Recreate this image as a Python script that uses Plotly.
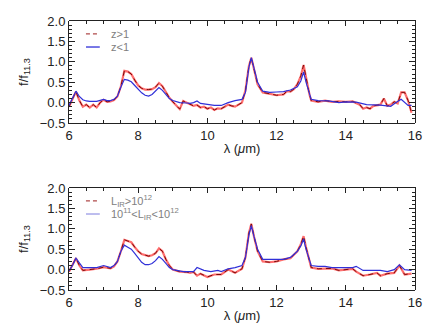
import plotly.graph_objects as go

# ---------------- data ----------------
# top panel: z>1 (red) and z<1 (blue)
lam_zhi = [6.0, 6.1, 6.2, 6.3, 6.4, 6.5, 6.6, 6.7, 6.8, 6.9, 7.0, 7.1, 7.2, 7.3, 7.4, 7.5, 7.6, 7.7, 7.8, 7.9,
           8.0, 8.1, 8.2, 8.3, 8.4, 8.5, 8.6, 8.7, 8.8, 8.9, 9.0, 9.1, 9.2, 9.3, 9.4, 9.5, 9.6, 9.7, 9.8, 9.9,
           10.0, 10.1, 10.2, 10.3, 10.4, 10.5, 10.6, 10.7, 10.8, 10.9, 11.0, 11.1, 11.2, 11.27, 11.35, 11.45,
           11.6, 11.8, 12.0, 12.2, 12.3, 12.4, 12.5, 12.6, 12.7, 12.78, 12.85, 12.95, 13.0, 13.2, 13.4, 13.6,
           13.8, 14.0, 14.2, 14.4, 14.5, 14.6, 14.7, 14.8, 15.0, 15.1, 15.2, 15.3, 15.4, 15.5, 15.6, 15.7,
           15.8, 15.9]
f_zhi = [-0.10, 0.10, 0.27, 0.05, -0.10, -0.05, -0.12, -0.05, -0.12, 0.00, 0.07, 0.02, 0.03, 0.06, 0.15, 0.40,
         0.78, 0.76, 0.70, 0.55, 0.42, 0.35, 0.32, 0.32, 0.33, 0.38, 0.48, 0.40, 0.25, 0.12, 0.02, -0.08,
         -0.16, 0.04, 0.00, -0.05, -0.08, -0.06, -0.12, -0.10, -0.15, -0.12, -0.18, -0.14, -0.15, -0.10,
         -0.05, -0.08, -0.10, -0.05, 0.00, 0.30, 0.90, 1.10, 0.80, 0.45, 0.25, 0.22, 0.18, 0.20, 0.28, 0.27,
         0.33, 0.45, 0.65, 0.92, 0.60, 0.20, 0.05, 0.02, 0.05, 0.02, 0.03, 0.02, 0.03, -0.05, -0.15, -0.12,
         -0.15, -0.08, -0.05, 0.10, -0.08, -0.05, 0.02, -0.02, 0.25, 0.25, 0.05, -0.25]

lam_zlo = [6.0, 6.1, 6.2, 6.3, 6.4, 6.5, 6.6, 6.8, 7.0, 7.1, 7.2, 7.3, 7.4, 7.5, 7.6, 7.7, 7.8, 7.9, 8.0, 8.1,
           8.2, 8.3, 8.4, 8.5, 8.6, 8.7, 8.8, 8.9, 9.0, 9.2, 9.4, 9.5, 9.6, 9.7, 9.8, 10.0, 10.2, 10.4, 10.6,
           10.8, 11.0, 11.1, 11.2, 11.27, 11.35, 11.45, 11.6, 11.8, 12.0, 12.2, 12.4, 12.6, 12.7, 12.78, 12.85,
           12.95, 13.0, 13.2, 13.5, 13.8, 14.0, 14.3, 14.6, 15.0, 15.3, 15.45, 15.6, 15.8, 15.9]
f_zlo = [-0.07, 0.10, 0.28, 0.15, 0.07, 0.04, 0.03, 0.03, 0.08, 0.05, 0.05, 0.08, 0.16, 0.38, 0.57, 0.55,
         0.51, 0.42, 0.32, 0.24, 0.18, 0.16, 0.20, 0.28, 0.37, 0.30, 0.20, 0.10, 0.05, 0.00, -0.01, -0.02,
         0.00, 0.04, -0.02, -0.05, -0.07, -0.07, 0.00, 0.05, 0.08, 0.25, 0.87, 1.10, 0.80, 0.50, 0.28, 0.25,
         0.26, 0.27, 0.31, 0.39, 0.53, 0.75, 0.50, 0.20, 0.08, 0.05, 0.04, 0.00, 0.02, 0.01, -0.05, -0.06,
         -0.09, 0.00, 0.08, -0.07, -0.07]

# bottom panel: L_IR>1e12 (red) and 1e11<L_IR<1e12 (blue)
lam_lhi = [6.0, 6.1, 6.2, 6.3, 6.4, 6.6, 6.8, 7.0, 7.2, 7.3, 7.4, 7.5, 7.6, 7.7, 7.8, 7.9, 8.0, 8.1, 8.2, 8.3,
           8.4, 8.5, 8.6, 8.7, 8.8, 8.9, 9.0, 9.2, 9.4, 9.5, 9.6, 9.7, 9.8, 10.0, 10.2, 10.4, 10.6, 10.8, 11.0,
           11.1, 11.2, 11.27, 11.35, 11.45, 11.6, 11.8, 12.0, 12.2, 12.4, 12.6, 12.7, 12.78, 12.85, 12.95, 13.0,
           13.2, 13.4, 13.6, 13.8, 14.0, 14.2, 14.3, 14.5, 14.7, 14.9, 15.0, 15.2, 15.4, 15.55, 15.7, 15.9]
f_lhi = [-0.05, 0.10, 0.28, 0.10, -0.02, 0.00, 0.02, 0.06, 0.03, 0.08, 0.20, 0.45, 0.73, 0.70, 0.67, 0.55,
         0.45, 0.38, 0.35, 0.33, 0.35, 0.40, 0.52, 0.45, 0.25, 0.10, 0.00, -0.05, -0.06, -0.08, -0.06, -0.15,
         -0.10, -0.18, -0.12, -0.12, 0.00, -0.08, 0.02, 0.30, 0.90, 1.12, 0.80, 0.45, 0.20, 0.18, 0.20, 0.25,
         0.28, 0.45, 0.62, 0.82, 0.55, 0.20, 0.05, 0.02, 0.02, 0.03, -0.02, 0.00, 0.02, -0.05, -0.15, -0.12,
         -0.08, -0.15, -0.10, -0.08, 0.10, -0.12, -0.10]

lam_llo = [6.0, 6.1, 6.2, 6.3, 6.4, 6.6, 6.8, 7.0, 7.2, 7.3, 7.4, 7.5, 7.6, 7.7, 7.8, 7.9, 8.0, 8.1, 8.2, 8.3,
           8.4, 8.5, 8.6, 8.7, 8.8, 8.9, 9.0, 9.3, 9.6, 9.7, 9.9, 10.1, 10.3, 10.4, 10.6, 10.8, 11.0, 11.1,
           11.2, 11.27, 11.35, 11.45, 11.6, 11.8, 12.0, 12.2, 12.4, 12.6, 12.7, 12.78, 12.85, 12.95, 13.0, 13.2,
           13.4, 13.6, 13.8, 14.0, 14.2, 14.3, 14.5, 14.8, 15.0, 15.2, 15.4, 15.55, 15.7, 15.9]
f_llo = [-0.03, 0.10, 0.28, 0.15, 0.05, 0.05, 0.05, 0.10, 0.05, 0.10, 0.20, 0.45, 0.60, 0.55, 0.50, 0.40,
         0.28, 0.18, 0.12, 0.12, 0.15, 0.22, 0.32, 0.25, 0.15, 0.05, 0.00, -0.05, -0.05, 0.05, -0.02, -0.05,
         -0.02, -0.05, 0.02, 0.05, 0.10, 0.30, 0.85, 1.08, 0.80, 0.50, 0.25, 0.25, 0.25, 0.25, 0.30, 0.45,
         0.58, 0.75, 0.50, 0.20, 0.10, 0.08, 0.08, 0.05, 0.05, 0.05, 0.05, 0.08, -0.02, -0.02, -0.02, -0.05,
         0.00, 0.12, 0.00, -0.02]

label_zhi = "z>1"
label_zlo = "z<1"
label_lhi = "L<sub>IR</sub>>10<sup>12</sup>"
label_llo = "10<sup>11</sup><L<sub>IR</sub><10<sup>12</sup>"

x_ticks = [6, 8, 10, 12, 14, 16]
y_ticks = [-0.5, 0.0, 0.5, 1.0, 1.5, 2.0]

# ---------------- styling ----------------
RED_LIGHT = "#ff6e6e"
RED_DARK = "#7a0a0a"
RED_LEG = "#b04a4a"
BLUE = "#3030d8"
BLUE_LEG = "#9a9ae6"
FRAME = "#222222"
FONT = "Liberation Sans, Arial, sans-serif"
LEG_FONT = dict(family=FONT, size=11, color="#808080")

top_dom = [0.6208, 1.0]
bot_dom = [0.0, 0.3792]

fig = go.Figure()


def add_panel(xa, ya, lam_r, f_r, lab_r, lam_b, f_b, lab_b):
    fig.add_trace(go.Scatter(x=lam_r, y=f_r, mode="lines", xaxis=xa, yaxis=ya,
                             line=dict(color=RED_LIGHT, width=2.2), showlegend=False,
                             hoverinfo="skip"))
    fig.add_trace(go.Scatter(x=lam_r, y=f_r, mode="lines", xaxis=xa, yaxis=ya, name=lab_r,
                             line=dict(color=RED_DARK, width=1, dash="5px,4px"),
                             showlegend=False))
    fig.add_trace(go.Scatter(x=lam_b, y=f_b, mode="lines", xaxis=xa, yaxis=ya, name=lab_b,
                             line=dict(color=BLUE, width=1.2), showlegend=False))


# empty traces so the top/right frame axes (x3/y3, x4/y4) get drawn (added first -> underneath)
for xa, ya in [("x3", "y3"), ("x4", "y4")]:
    fig.add_trace(go.Scatter(x=[None], y=[None], mode="lines", xaxis=xa, yaxis=ya,
                             showlegend=False, hoverinfo="skip"))

add_panel("x", "y", lam_zhi, f_zhi, label_zhi, lam_zlo, f_zlo, label_zlo)
add_panel("x2", "y2", lam_lhi, f_lhi, label_lhi, lam_llo, f_llo, label_llo)


# manual legends (IDL style: short sample line + grey text)
def add_legend(xa, ya, lab_r, lab_b, blue_col):
    xd, yd = xa + " domain", ya + " domain"
    rows = [(0.873, lab_r, dict(color=RED_LEG, width=1.2, dash="4px,3px")),
            (0.745, lab_b, dict(color=blue_col, width=1.3))]
    for yy, txt, ln in rows:
        fig.add_shape(type="line", xref=xd, yref=yd, x0=0.049, x1=0.089, y0=yy, y1=yy, line=ln)
        fig.add_annotation(xref=xd, yref=yd, x=0.115, y=yy, text=txt, showarrow=False,
                           xanchor="left", yanchor="middle", font=LEG_FONT)


add_legend("x", "y", label_zhi, label_zlo, BLUE)
add_legend("x2", "y2", label_lhi, label_llo, BLUE_LEG)

axis_common = dict(showline=True, linecolor=FRAME, linewidth=1, mirror=False,
                   ticks="inside", tickcolor=FRAME, showgrid=False, zeroline=False,
                   tickfont=dict(family=FONT, size=13, color="#222"), automargin=False)

xcommon = dict(axis_common, range=[6, 16], tickvals=x_ticks, ticklen=5,
               minor=dict(dtick=0.5, ticks="inside", ticklen=3, tickcolor=FRAME))
ycommon = dict(axis_common, range=[-0.5, 2.0], tickvals=y_ticks, tickformat=".1f", ticklen=6,
               minor=dict(dtick=0.1, ticks="inside", ticklen=3, tickcolor=FRAME))

xtitle = dict(text="λ (<i>μ</i>m)", font=dict(family=FONT, size=13, color="#222"), standoff=2)
ytitle = dict(text="f/f<sub>11.3</sub>", font=dict(family=FONT, size=13, color="#222"), standoff=8)

fig.update_layout(
    width=436, height=334,
    margin=dict(l=69, r=21, t=21, b=44),
    paper_bgcolor="white", plot_bgcolor="rgba(0,0,0,0)",
    xaxis=dict(xcommon, domain=[0, 1], anchor="y", title=xtitle),
    yaxis=dict(ycommon, domain=top_dom, anchor="x", title=ytitle),
    xaxis2=dict(xcommon, domain=[0, 1], anchor="y2", title=xtitle),
    yaxis2=dict(ycommon, domain=bot_dom, anchor="x2", title=ytitle),
    # top / right frame axes
    xaxis3=dict(xcommon, domain=[0, 1], anchor="y3", side="top", showticklabels=False),
    yaxis3=dict(ycommon, domain=top_dom, anchor="x3", side="right", showticklabels=False),
    xaxis4=dict(xcommon, domain=[0, 1], anchor="y4", side="top", showticklabels=False),
    yaxis4=dict(ycommon, domain=bot_dom, anchor="x4", side="right", showticklabels=False),
    showlegend=False,
)

fig.write_html("out.html", config={"displayModeBar": False},
               post_script="document.body.style.margin='0';document.body.style.padding='0';"
                           "document.body.style.overflow='hidden';")
